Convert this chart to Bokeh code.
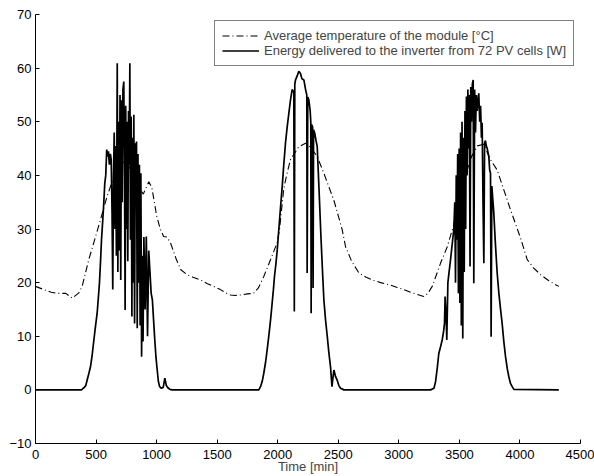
from bokeh.plotting import figure
from bokeh.models import FixedTicker, Legend, LegendItem
from bokeh.embed import file_html
from bokeh.resources import INLINE

# Axis ticks
x_ticks = [0, 500, 1000, 1500, 2000, 2500, 3000, 3500, 4000, 4500]
y_ticks = [-10, 0, 10, 20, 30, 40, 50, 60, 70]

# Average module temperature [°C] (time [min], value)
temperature = [(0,19.3),(70,18.7),(130,18.2),(180,18.0),(250,18.0),(303,17.1),(358,18.1),(385,19.3),
               (440,24.3),(495,28.5),(540,32.0),(590,36.0),(650,40.0),(700,42.3),(750,42.5),(800,40.5),
               (850,38.0),(890,36.5),(935,38.8),(960,37.8),(1000,32.5),(1030,30.0),(1058,28.6),(1085,28.5),
               (1115,27.4),(1160,24.5),(1200,22.4),(1250,21.5),(1300,21.0),(1362,20.5),(1420,19.8),(1480,19.2),
               (1527,18.7),(1570,18.1),(1610,17.7),(1650,17.6),(1693,17.7),(1750,17.9),(1800,18.0),(1840,19.0),
               (1884,21.1),(1941,24.3),(1995,27.4),(2015,30.0),(2050,37.5),(2073,40.0),(2105,42.9),(2172,45.3),
               (2230,46.0),(2280,45.0),(2326,43.5),(2381,40.4),(2420,38.0),(2463,35.4),(2532,29.9),(2560,26.7),
               (2610,24.0),(2670,21.8),(2730,21.0),(2794,20.4),(2850,20.0),(2920,19.6),(2987,19.1),(3040,18.7),
               (3097,18.2),(3150,17.8),(3206,17.4),(3240,18.0),(3276,19.3),(3344,23.6),(3400,26.7),(3450,30.5),
               (3500,35.5),(3550,40.0),(3600,43.5),(3650,45.5),(3700,45.8),(3757,42.9),(3812,41.0),(3867,37.3),
               (3922,33.6),(4005,28.3),(4060,24.3),(4110,22.8),(4170,21.5),(4230,20.5),(4294,19.6),(4321,19.3)]

# Energy delivered to the inverter [W] (time [min], value), per day
energy_day1 = [(0,0),(380,0),(400,0.4),(415,0.8),(427,1.9),(440,3.0),(454,4.3),(468,6.5),(482,9.3),(495,11.8),
               (509,14.3),(520,17.5),(528,19.9),(537,24.0),(545,28.0),(555,31.5),(564,35.0),(572,38.5),(580,40.0),
               (588,44.8),(595,43.5),(602,44.5),(610,42.0),(618,44.0),(625,43.0),(632,33.0),(638,18.7),(644,40.0),
               (650,48.0),(656,30.0),(662,45.5),(668,25.0),(675,60.9),(680,22.0),(686,50.0),(692,26.0),(698,55.0),
               (704,20.5),(710,54.0),(716,35.0),(722,56.0),(729,57.5),(735,40.0),(740,14.9),(745,53.0),(750,30.0),
               (756,50.0),(762,24.0),(768,52.0),(774,42.0),(779,60.9),(784,28.0),(790,51.0),(796,13.7),(800,47.0),
               (806,20.0),(812,51.3),(818,12.4),(824,46.0),(828,38.0),(834,46.3),(840,11.5),(846,44.0),(852,20.0),
               (858,42.0),(864,12.0),(870,40.4),(876,6.2),(882,25.0),(888,9.0),(895,28.5),(905,15.0),(915,28.6),
               (925,10.0),(935,26.0),(945,22.0),(955,18.0),(965,16.8),(975,13.0),(985,9.3),(995,6.0),(1005,3.7),
               (1015,1.5),(1025,0.6),(1040,0.3),(1055,0.5),(1068,2.2),(1080,0.8),(1093,0.4),(1110,0.1),(1130,0)]
energy_day2 = [(1844,0),(1858,0.6),(1872,1.6),(1885,3.1),(1900,5.2),(1913,7.5),(1925,9.8),(1935,11.8),(1945,14.0),
               (1954,16.2),(1964,18.6),(1973,21.1),(1985,23.5),(1996,26.1),(2009,29.9),(2023,34.0),(2037,37.9),
               (2050,42.0),(2064,46.0),(2078,49.0),(2092,51.6),(2105,54.0),(2119,56.0),(2133,55.5),(2137,14.6),
               (2141,57.0),(2147,57.8),(2160,58.5),(2174,59.4),(2188,59.0),(2200,58.0),(2216,57.8),(2230,56.0),
               (2240,55.0),(2243,21.8),(2248,54.6),(2257,54.1),(2268,52.0),(2273,50.0),(2276,14.3),(2280,49.5),
               (2288,49.0),(2292,19.0),(2296,48.5),(2305,47.9),(2316,46.5),(2326,45.4),(2340,38.0),(2357,28.5),
               (2370,22.0),(2381,16.8),(2395,13.0),(2409,10.0),(2422,7.0),(2436,4.3),(2448,0.6),(2457,2.5),
               (2464,3.7),(2477,2.5),(2491,1.8),(2505,0.8),(2519,0.3),(2546,0)]
energy_day3 = [(3262,0),(3290,0.3),(3303,1.5),(3317,4.0),(3330,6.8),(3344,8.0),(3358,9.3),(3370,11.0),(3377,12.4),
               (3382,17.4),(3390,14.0),(3396,9.3),(3405,20.0),(3415,22.0),(3427,24.3),(3440,27.0),(3454,30.0),
               (3462,35.0),(3468,20.0),(3474,40.0),(3480,28.0),(3486,44.0),(3492,18.0),(3498,45.0),(3504,16.2),
               (3510,48.0),(3516,12.0),(3522,50.0),(3528,9.6),(3534,47.0),(3540,22.0),(3546,52.0),(3552,30.0),
               (3558,54.7),(3564,40.0),(3570,56.0),(3576,45.0),(3582,55.0),(3588,23.0),(3594,56.5),(3600,50.0),
               (3607,57.0),(3614,57.8),(3619,19.9),(3626,56.0),(3633,48.0),(3640,55.0),(3647,52.0),(3654,54.0),
               (3660,55.3),(3668,50.0),(3675,53.0),(3682,47.0),(3688,49.8),(3695,35.0),(3702,23.6),(3708,46.0),
               (3715,46.5),(3722,45.5),(3730,45.0),(3743,43.5),(3750,41.0),(3757,40.4),(3762,9.9),(3768,38.0),
               (3784,33.0),(3798,27.0),(3812,21.8),(3826,18.0),(3840,15.0),(3853,12.4),(3867,9.0),(3881,6.2),
               (3895,4.0),(3908,2.5),(3922,1.2),(3936,0.6),(3950,0.1),(4321,0)]

legend_labels = ["Average temperature of the module [°C]",
                 "Energy delivered to the inverter from 72 PV cells [W]"]

FONT = "Liberation Sans"
FS = "13px"

p = figure(width=594, height=476, output_backend="svg", toolbar_location=None,
           x_range=(0, 4500), y_range=(-10, 70),
           min_border_left=35, min_border_right=14, min_border_top=14, min_border_bottom=33)
p.outline_line_color = None
p.xgrid.visible = False
p.ygrid.visible = False
p.background_fill_color = "white"
p.border_fill_color = "white"

temp_t = [a for a, b in temperature]
temp_v = [b for a, b in temperature]
energy = energy_day1 + energy_day2 + energy_day3
en_t = [a for a, b in energy]
en_v = [b for a, b in energy]

r_temp = p.line(temp_t, temp_v, line_color="black", line_width=1.1, line_dash="7 3 1 3")
r_en = p.line(en_t, en_v, line_color="black", line_width=1.7)

for ax in (p.xaxis[0], p.yaxis[0]):
    ax.major_tick_in = 4
    ax.major_tick_out = 0
    ax.minor_tick_in = 0
    ax.minor_tick_out = 0
    ax.axis_line_color = "black"
    ax.major_tick_line_color = "black"
    ax.major_label_text_font = FONT
    ax.major_label_text_font_size = FS
    ax.major_label_text_color = "black"

p.xaxis.ticker = FixedTicker(ticks=x_ticks)
p.yaxis.ticker = FixedTicker(ticks=y_ticks)
p.yaxis.major_label_overrides = {-10: "\u221210"}
p.xaxis.major_label_standoff = 6
p.yaxis.major_label_standoff = 4
p.xaxis.axis_label = "Time [min]"
p.xaxis.axis_label_text_font = FONT
p.xaxis.axis_label_text_font_size = FS
p.xaxis.axis_label_text_font_style = "normal"
p.xaxis.axis_label_standoff = -3

legend = Legend(items=[LegendItem(label=legend_labels[0], renderers=[r_temp]),
                       LegendItem(label=legend_labels[1], renderers=[r_en])],
                location="top_right", margin=6, padding=7, spacing=0,
                glyph_width=37, glyph_height=13, label_height=13, label_standoff=5,
                label_text_font=FONT, label_text_font_size=FS,
                border_line_color="black", border_line_width=1,
                background_fill_color="white", background_fill_alpha=1.0)
p.add_layout(legend)

open("out.html", "w").write(file_html(p, INLINE))
